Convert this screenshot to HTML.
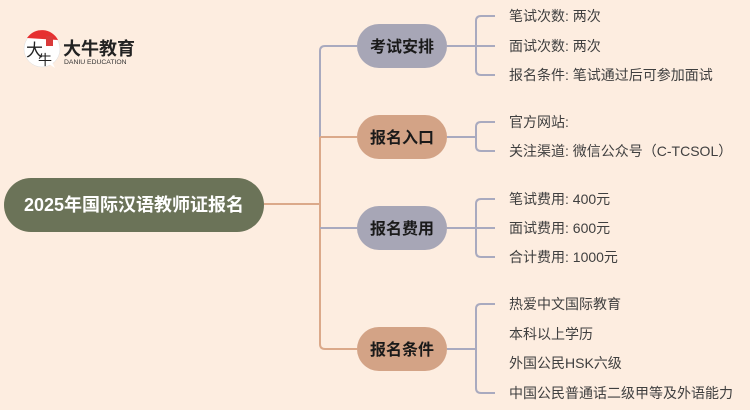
<!DOCTYPE html>
<html><head><meta charset="utf-8"><style>
html,body{margin:0;padding:0;background:#fdede0;}
svg{display:block;}
text{font-family:"Liberation Sans","Noto Sans CJK SC",sans-serif;}
.leaf{font-size:14px;fill:#3f3f3f;}
.br{font-size:16px;font-weight:bold;fill:#1a1a1a;text-anchor:middle;}
</style></head><body>
<svg width="750" height="410" viewBox="0 0 750 410" xmlns="http://www.w3.org/2000/svg">
<rect width="750" height="410" fill="#fdede0"/>
<!-- logo -->
<circle cx="42" cy="49" r="18" fill="#fff" stroke="#ddd" stroke-width="0.5"/>
<path d="M49 64 L55 68 L52 62 Z" fill="#fff"/>
<path d="M27 38 A18 18 0 0 1 58 40 Z" fill="#e63030"/>
<rect x="46" y="36" width="7" height="10" fill="#d93a3a"/>
<text x="26" y="56" font-size="17" fill="#222" font-family="Liberation Serif,'Noto Serif CJK SC',serif">大</text>
<text x="38" y="65" font-size="14" fill="#222" font-family="Liberation Serif,'Noto Serif CJK SC',serif">牛</text>
<text x="63" y="55" font-size="18" font-weight="bold" fill="#222">大牛教育</text>
<text x="64" y="64" font-size="6.8" fill="#333">DANIU EDUCATION</text>
<!-- connectors -->
<g fill="none" stroke-width="2">
<path d="M264 204 H320" stroke="#dba98a"/>
<path d="M357 46 H325 Q320 46 320 51 V137" stroke="#a9aabf"/>
<path d="M320 137 V344 Q320 349 325 349 H357" stroke="#dba98a"/>
<path d="M320 137 H357" stroke="#dba98a"/>
<path d="M320 228 H357" stroke="#a9aabf"/>
<g stroke="#a9aabf">
<path d="M447 46 H495 M495 16 H481 Q476 16 476 21 V70 Q476 75 481 75 H495"/>
<path d="M447 137 H476 M495 122 H481 Q476 122 476 127 V146 Q476 151 481 151 H495"/>
<path d="M447 228 H495 M495 199 H481 Q476 199 476 204 V252 Q476 257 481 257 H495"/>
<path d="M447 349 H476 M495 304 H481 Q476 304 476 309 V388 Q476 393 481 393 H495"/>
</g>
</g>
<!-- root -->
<rect x="4" y="178" width="260" height="54" rx="27" fill="#6b7358"/>
<text x="134" y="211" font-size="18" font-weight="bold" fill="#fff" text-anchor="middle">2025年国际汉语教师证报名</text>
<!-- branches -->
<rect x="357" y="24" width="90" height="44" rx="22" fill="#a7a6b6"/>
<text class="br" x="402" y="52">考试安排</text>
<rect x="357" y="115" width="90" height="44" rx="22" fill="#d3a386"/>
<text class="br" x="402" y="143">报名入口</text>
<rect x="357" y="206" width="90" height="44" rx="22" fill="#a7a6b6"/>
<text class="br" x="402" y="234">报名费用</text>
<rect x="357" y="327" width="90" height="44" rx="22" fill="#d3a386"/>
<text class="br" x="402" y="355">报名条件</text>
<!-- leaves -->
<text class="leaf" x="509" y="21">笔试次数: 两次</text>
<text class="leaf" x="509" y="51">面试次数: 两次</text>
<text class="leaf" x="509" y="80">报名条件: 笔试通过后可参加面试</text>
<text class="leaf" x="509" y="127">官方网站:</text>
<text class="leaf" x="509" y="156">关注渠道: 微信公众号（C-TCSOL）</text>
<text class="leaf" x="509" y="204">笔试费用: 400元</text>
<text class="leaf" x="509" y="233">面试费用: 600元</text>
<text class="leaf" x="509" y="262">合计费用: 1000元</text>
<text class="leaf" x="509" y="309">热爱中文国际教育</text>
<text class="leaf" x="509" y="339">本科以上学历</text>
<text class="leaf" x="509" y="368">外国公民HSK六级</text>
<text class="leaf" x="509" y="398">中国公民普通话二级甲等及外语能力</text>
</svg>
</body></html>
